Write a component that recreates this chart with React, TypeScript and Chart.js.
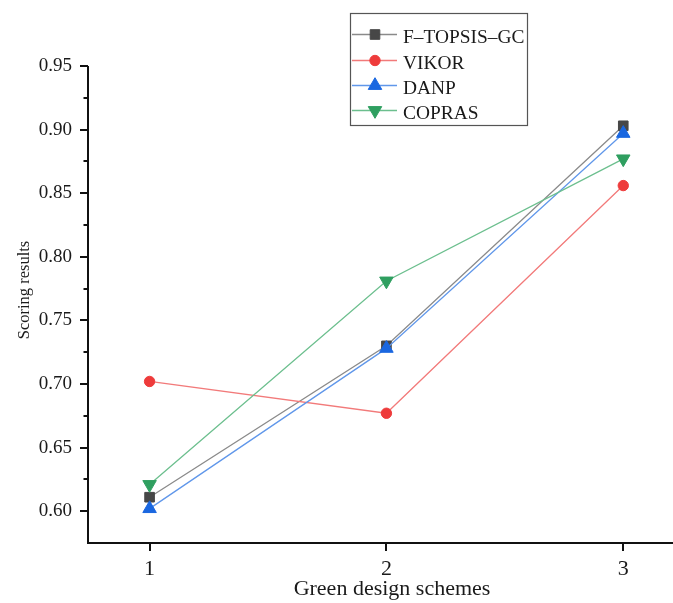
import React, { useEffect, useRef } from "react";
import { Chart, registerables } from "chart.js";

Chart.register(...registerables);

// ---- data ----
const schemes = [1, 2, 3];
const seriesNames = ["F\u2013TOPSIS\u2013GC", "VIKOR", "DANP", "COPRAS"];
const ftopsisGC = [0.611, 0.730, 0.903];
const vikor = [0.702, 0.677, 0.856];
const danp = [0.602, 0.728, 0.897];
const copras = [0.621, 0.781, 0.877];
const yTickValues = [0.6, 0.65, 0.7, 0.75, 0.8, 0.85, 0.9, 0.95];
const yMinorTickValues = [0.625, 0.675, 0.725, 0.775, 0.825, 0.875, 0.925];
const xTickValues = [1, 2, 3];
const xTitle = "Green design schemes";
const yTitle = "Scoring results";

const seriesValues = [ftopsisGC, vikor, danp, copras];

// ---- styles ----
const FONT = '"Liberation Serif", "Times New Roman", serif';
const seriesStyles = [
  { line: "#8a8a8a", marker: "#474747", pointStyle: "rect", radius: 6.8, rotation: 0 },
  { line: "#f27a7a", marker: "#ee3b3b", pointStyle: "circle", radius: 5.2, rotation: 0 },
  { line: "#6097ea", marker: "#1a67e0", pointStyle: "triangle", radius: 7.8, rotation: 0 },
  { line: "#6cbf8e", marker: "#2f9f60", pointStyle: "triangle", radius: 7.8, rotation: 180 },
];

function drawMarker(ctx: CanvasRenderingContext2D, style: any, x: number, y: number) {
  ctx.save();
  ctx.fillStyle = style.marker;
  ctx.strokeStyle = style.marker;
  ctx.lineWidth = 1;
  ctx.beginPath();
  const r = style.radius;
  if (style.pointStyle === "rect") {
    const s = r * Math.SQRT1_2;
    ctx.rect(x - s, y - s, 2 * s, 2 * s);
  } else if (style.pointStyle === "circle") {
    ctx.arc(x, y, r, 0, Math.PI * 2);
  } else {
    const rot = (style.rotation * Math.PI) / 180;
    for (let i = 0; i < 3; i++) {
      const a = rot + (i * 2 * Math.PI) / 3;
      const px = x + Math.sin(a) * r;
      const py = y - Math.cos(a) * r;
      if (i === 0) ctx.moveTo(px, py);
      else ctx.lineTo(px, py);
    }
    ctx.closePath();
  }
  ctx.fill();
  ctx.stroke();
  ctx.restore();
}

const decorPlugin = {
  id: "decor",
  afterDraw(chart: any) {
    const ctx: CanvasRenderingContext2D = chart.ctx;
    const xs = chart.scales.x;
    const ys = chart.scales.y;
    const area = chart.chartArea;
    ctx.save();
    // axes lines
    ctx.strokeStyle = "#111";
    ctx.lineWidth = 2;
    ctx.beginPath();
    ctx.moveTo(area.left, area.top);
    ctx.lineTo(area.left, area.bottom);
    ctx.moveTo(area.left - 1, area.bottom);
    ctx.lineTo(area.right, area.bottom);
    // y ticks
    yTickValues.forEach((v) => {
      const p = Math.round(ys.getPixelForValue(v));
      ctx.moveTo(area.left, p);
      ctx.lineTo(area.left - 8, p);
    });
    yMinorTickValues.forEach((v) => {
      const p = Math.round(ys.getPixelForValue(v));
      ctx.moveTo(area.left, p);
      ctx.lineTo(area.left - 4.5, p);
    });
    xTickValues.forEach((v) => {
      const p = Math.round(xs.getPixelForValue(v));
      ctx.moveTo(p, area.bottom);
      ctx.lineTo(p, area.bottom + 8);
    });
    ctx.stroke();

    // axis titles
    ctx.fillStyle = "#1a1a1a";
    ctx.font = `22px ${FONT}`;
    ctx.textAlign = "center";
    ctx.textBaseline = "alphabetic";
    ctx.fillText(xTitle, 392, 595);
    ctx.save();
    ctx.translate(29, 290);
    ctx.rotate(-Math.PI / 2);
    ctx.font = `16.5px ${FONT}`;
    ctx.fillText(yTitle, 0, 0);
    ctx.restore();

    // legend
    const bx = 350.5, by = 13.5, bw = 177, bh = 112;
    ctx.strokeStyle = "#555";
    ctx.lineWidth = 1.2;
    ctx.strokeRect(bx, by, bw, bh);
    ctx.font = `19.4px ${FONT}`;
    ctx.textAlign = "left";
    const rowY = [34.5, 60.5, 85.5, 110.5];
    seriesNames.forEach((name, i) => {
      const st = seriesStyles[i];
      const y = rowY[i];
      ctx.strokeStyle = st.line;
      ctx.lineWidth = 1.3;
      ctx.beginPath();
      ctx.moveTo(352, y);
      ctx.lineTo(397, y);
      ctx.stroke();
      drawMarker(ctx, st, 375, y);
      ctx.fillStyle = "#1a1a1a";
      ctx.fillText(name, 403, y + 8);
    });
    ctx.restore();
  },
};

export default function App() {
  const canvasRef = useRef<HTMLCanvasElement | null>(null);

  useEffect(() => {
    if (!canvasRef.current) return;
    const datasets = seriesNames.map((name, i) => {
      const st = seriesStyles[i];
      return {
        label: name,
        data: schemes.map((x, j) => ({ x, y: seriesValues[i][j] })),
        borderColor: st.line,
        borderWidth: 1.3,
        backgroundColor: st.marker,
        pointBackgroundColor: st.marker,
        pointBorderColor: st.marker,
        pointBorderWidth: 1,
        pointStyle: st.pointStyle as any,
        pointRadius: st.radius,
        pointRotation: st.rotation,
        tension: 0,
        fill: false,
        clip: false as any,
        order: seriesNames.length - i,
      };
    });

    const chart = new Chart(canvasRef.current, {
      type: "line",
      data: { datasets },
      options: {
        animation: false,
        responsive: false,
        maintainAspectRatio: false,
        layout: { autoPadding: false, padding: { top: 66, left: 0, right: 0, bottom: 0 } },
        plugins: {
          legend: { display: false },
          tooltip: { enabled: false },
          title: { display: false },
        },
        scales: {
          x: {
            type: "linear",
            min: 0.74,
            max: 3.21,
            grid: { display: false, drawTicks: false },
            border: { display: false },
            afterBuildTicks: (s: any) => {
              s.ticks = xTickValues.map((v) => ({ value: v }));
            },
            afterFit: (s: any) => {
              s.height = 60;
              s.paddingLeft = 0;
              s.paddingRight = 0;
            },
            ticks: {
              padding: 13,
              color: "#1a1a1a",
              font: { family: FONT, size: 22 },
              callback: (v: any) => String(v),
              maxRotation: 0,
              autoSkip: false,
            },
          },
          y: {
            type: "linear",
            min: 0.575,
            max: 0.95,
            grid: { display: false, drawTicks: false },
            border: { display: false },
            afterBuildTicks: (s: any) => {
              s.ticks = yTickValues.map((v) => ({ value: v }));
            },
            afterFit: (s: any) => {
              s.width = 88;
              s.paddingTop = 0;
              s.paddingBottom = 0;
            },
            ticks: {
              padding: 16,
              color: "#1a1a1a",
              font: { family: FONT, size: 19 },
              callback: (v: any) => Number(v).toFixed(2),
              autoSkip: false,
            },
          },
        },
      },
      plugins: [decorPlugin],
    });
    return () => chart.destroy();
  }, []);

  return (
    <div style={{ position: "fixed", left: 0, top: 0, width: 673, height: 603, background: "#fff" }}>
      <canvas ref={canvasRef} width={673} height={603} style={{ display: "block" }} />
    </div>
  );
}
